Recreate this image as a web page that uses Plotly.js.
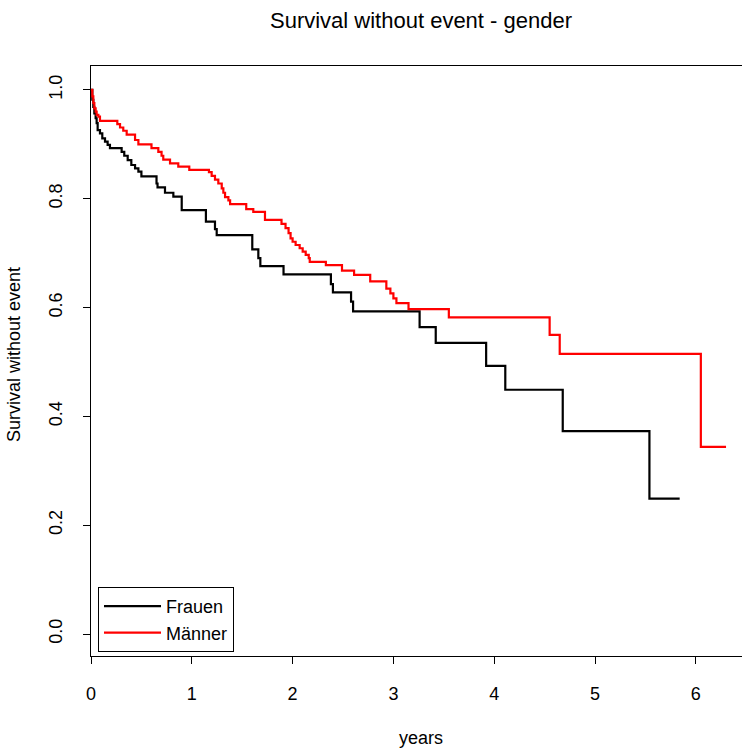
<!DOCTYPE html>
<html>
<head>
<meta charset="utf-8">
<script src="https://cdn.plot.ly/plotly-3.0.1.min.js"></script>
<style>html,body{margin:0;padding:0;background:#fff;}#chart{width:742px;height:753px;}</style>
</head>
<body>
<div id="chart"></div>
<script>
// Kaplan-Meier estimates
const seriesNames = ["Frauen", "Männer"];
const tFrauen = [0, 0.013, 0.023, 0.033, 0.046, 0.056, 0.066, 0.089, 0.112, 0.139, 0.165, 0.188, 0.304, 0.33, 0.364, 0.40, 0.437, 0.47, 0.50, 0.65, 0.66, 0.734, 0.817, 0.90, 1.14, 1.23, 1.247, 1.60, 1.66, 1.68, 1.91, 2.38, 2.40, 2.58, 2.60, 3.26, 3.42, 3.92, 4.11, 4.68, 5.54, 5.84];
const sFrauen = [1.0, 0.982, 0.969, 0.957, 0.948, 0.939, 0.926, 0.920, 0.911, 0.905, 0.899, 0.893, 0.886, 0.879, 0.871, 0.862, 0.856, 0.850, 0.841, 0.828, 0.821, 0.811, 0.804, 0.779, 0.758, 0.744, 0.733, 0.707, 0.691, 0.676, 0.661, 0.643, 0.628, 0.611, 0.593, 0.564, 0.535, 0.493, 0.449, 0.373, 0.249, 0.249];
const tMaenner = [0, 0.013, 0.023, 0.033, 0.046, 0.056, 0.073, 0.089, 0.261, 0.288, 0.32, 0.354, 0.437, 0.47, 0.60, 0.668, 0.70, 0.717, 0.784, 0.866, 0.975, 1.17, 1.197, 1.23, 1.263, 1.297, 1.313, 1.33, 1.363, 1.38, 1.54, 1.61, 1.726, 1.89, 1.93, 1.96, 1.98, 2.00, 2.03, 2.07, 2.10, 2.13, 2.16, 2.17, 2.33, 2.49, 2.61, 2.77, 2.93, 2.97, 3.00, 3.03, 3.15, 3.55, 4.55, 4.65, 6.05, 6.30];
const sMaenner = [1.0, 0.988, 0.976, 0.966, 0.960, 0.954, 0.951, 0.943, 0.937, 0.931, 0.925, 0.918, 0.908, 0.900, 0.893, 0.886, 0.879, 0.872, 0.865, 0.859, 0.853, 0.849, 0.842, 0.835, 0.828, 0.819, 0.811, 0.803, 0.797, 0.790, 0.781, 0.776, 0.761, 0.754, 0.746, 0.737, 0.727, 0.721, 0.715, 0.709, 0.703, 0.697, 0.691, 0.684, 0.678, 0.668, 0.660, 0.648, 0.635, 0.626, 0.617, 0.608, 0.597, 0.582, 0.550, 0.515, 0.344, 0.344];
const xTicks = [0, 1, 2, 3, 4, 5, 6];
const yTicks = [0.0, 0.2, 0.4, 0.6, 0.8, 1.0];
const yTickText = ["0.0", "0.2", "0.4", "0.6", "0.8", "1.0"];

const FONT = "Liberation Sans, Arial, sans-serif";

const traces = [
  {x: tFrauen, y: sFrauen, name: seriesNames[0], type: "scatter", mode: "lines",
   line: {shape: "hv", color: "#000000", width: 2.2}},
  {x: tMaenner, y: sMaenner, name: seriesNames[1], type: "scatter", mode: "lines",
   line: {shape: "hv", color: "#ff0000", width: 2.2}}
];

const layout = {
  width: 742, height: 753,
  margin: {l: 91, r: 0, t: 66, b: 97, pad: 0},
  paper_bgcolor: "#ffffff", plot_bgcolor: "#ffffff",
  font: {family: FONT, size: 18, color: "#000000"},
  showlegend: true,
  title: {text: "Survival without event - gender", font: {family: FONT, size: 22, color: "#000000"},
          xref: "container", x: 421/742, xanchor: "center", yref: "container", y: 1 - 20/753, yanchor: "middle"},
  xaxis: {range: [0, 651/100.8], tickvals: xTicks, ticktext: xTicks.map(String),
          ticks: "outside", ticklen: 7, tickwidth: 1, tickcolor: "#000000",
          showline: true, linecolor: "#000000", linewidth: 1, mirror: true,
          showgrid: false, zeroline: false, ticklabelstandoff: 14,
          tickfont: {family: FONT, size: 18, color: "#000000"}},
  yaxis: {range: [-0.0404, 1.044], tickvals: yTicks, ticktext: yTickText, tickangle: -90,
          ticks: "outside", ticklen: 7, tickwidth: 1, tickcolor: "#000000",
          showline: true, linecolor: "#000000", linewidth: 1,
          showgrid: false, zeroline: false, ticklabelstandoff: 14,
          tickfont: {family: FONT, size: 18, color: "#000000"}},
  legend: {x: 7/651, xanchor: "left", y: 4/590, yanchor: "bottom",
           bordercolor: "#000000", borderwidth: 1, bgcolor: "#ffffff",
           font: {family: FONT, size: 18, color: "#000000"},
           itemwidth: 57, tracegroupgap: 0},
  annotations: [
    {text: "years", xref: "paper", x: (421-91)/651, xanchor: "center",
     yref: "paper", y: (656-738)/590, yanchor: "middle", showarrow: false,
     font: {family: FONT, size: 18, color: "#000000"}},
    {text: "Survival without event", xref: "paper", x: (14-91)/651, xanchor: "center",
     yref: "paper", y: (656-355)/590, yanchor: "middle", showarrow: false, textangle: -90,
     font: {family: FONT, size: 18, color: "#000000"}}
  ]
};

Plotly.newPlot("chart", traces, layout, {displayModeBar: false, staticPlot: true});
</script>
</body>
</html>
